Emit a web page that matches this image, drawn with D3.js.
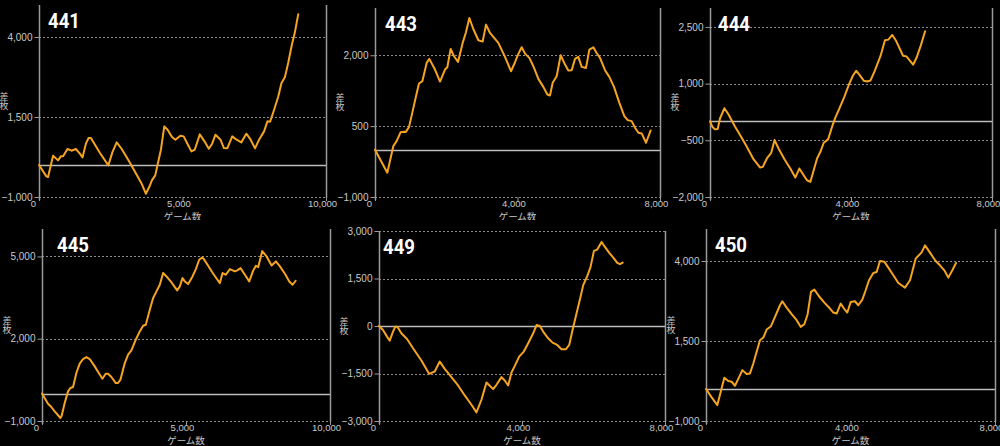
<!DOCTYPE html>
<html><head><meta charset="utf-8">
<script src="https://cdn.jsdelivr.net/npm/d3@7"></script>
<style>html,body{margin:0;padding:0;background:#000;overflow:hidden}</style>
</head><body>
<svg id="c" width="1000" height="446"></svg>
<script>
// ---- data ----
const machines = ["441", "443", "444", "445", "449", "450"];
const xTitle = "ゲーム数";
const yTitle = "差枚";

const games441 = [0,257,315,490,665,759,840,992,1132,1284,1424,1517,1634,1727,1809,2124,2416,2556,2707,2883,3174,3466,3583,3723,3840,3933,4050,4131,4248,4365,4481,4633,4750,4925,5041,5158,5310,5427,5602,5765,5917,6033,6150,6325,6442,6559,6734,6885,7049,7224,7375,7527,7667,7842,7959,8052,8192,8332,8449,8566,8682,8811,8916,9032];
const coins441 = [0,-355,-376,291,145,270,270,500,447,500,353,238,666,843,843,374,-12,395,707,500,61,-408,-595,-897,-689,-481,-324,10,478,1207,1103,874,791,916,895,686,426,478,957,739,510,666,947,791,530,520,895,791,707,978,791,520,791,1051,1364,1353,1728,2124,2562,2739,3187,3760,4146,4708];

const games443 = [0,346,515,608,720,814,861,954,1057,1151,1235,1329,1450,1525,1684,1825,1965,2030,2124,2218,2330,2461,2554,2648,2760,2901,3022,3116,3228,3322,3462,3649,3818,3930,4024,4117,4211,4332,4445,4585,4725,4838,4912,4987,5100,5212,5334,5427,5521,5614,5708,5801,5923,6017,6129,6222,6316,6456,6578,6709,6859,6999,7093,7205,7299,7393,7486,7608,7738];
const coins443 = [0,-486,78,183,373,380,373,479,817,1134,1401,1451,1838,1923,1697,1444,1697,1746,2134,1979,1859,2261,2486,2789,2556,2317,2289,2648,2472,2387,2261,1965,1662,1852,2028,2169,2035,1944,1768,1500,1331,1169,1148,1416,1556,2000,1803,1676,1683,1923,1965,1754,1732,2120,2169,2049,1944,1683,1542,1331,993,711,627,606,465,359,345,148,408];

const games444 = [0,66,142,218,285,408,522,712,883,1044,1234,1423,1499,1613,1737,1832,1945,2116,2278,2420,2534,2657,2752,2847,2942,3037,3132,3227,3350,3464,3559,3654,3796,3938,4052,4147,4242,4365,4460,4555,4679,4840,4963,5058,5172,5286,5476,5571,5647,5761,5856,5979,6102];
const coins444 = [0,-140,-211,-202,82,348,188,-140,-405,-671,-999,-1220,-1203,-981,-831,-494,-716,-1008,-1247,-1486,-1247,-1424,-1557,-1601,-1291,-981,-804,-565,-476,-140,108,303,613,968,1207,1340,1233,1074,1056,1083,1348,1738,2146,2163,2287,2119,1738,1720,1632,1499,1676,2004,2385];

const games445 = [0,209,324,440,521,637,684,788,904,985,1078,1193,1309,1425,1541,1657,1831,1970,2097,2213,2294,2410,2561,2642,2723,2874,2990,3105,3256,3395,3511,3604,3743,3859,3974,4090,4206,4322,4496,4693,4786,4878,4959,5075,5226,5342,5458,5562,5620,5770,5944,6176,6269,6385,6524,6697,6778,6894,7045,7196,7335,7427,7508,7647,7798,7972,8122,8261,8435,8586,8702,8806];
const coins445 = [0,-369,-490,-648,-745,-891,-806,-344,81,202,239,749,1089,1259,1332,1259,992,749,542,725,725,603,384,384,506,1113,1417,1575,1964,2267,2474,2510,3057,3482,3725,3968,4393,4271,4053,3761,3907,4210,4089,3992,4271,4538,4879,4964,4903,4660,4368,4028,4393,4332,4538,4453,4490,4575,4332,4089,4490,4660,4611,5194,5000,4672,4818,4636,4368,4089,3968,4113];

const games449 = [0,112,224,299,392,457,513,625,784,952,1186,1400,1559,1699,1839,2026,2212,2399,2586,2726,2866,3006,3099,3193,3286,3426,3519,3613,3706,3799,3921,4051,4173,4313,4406,4500,4612,4733,4854,4985,5106,5228,5321,5414,5508,5638,5713,5825,5918,6012,6105,6226,6320,6441,6553,6665,6740,6815];
const coins449 = [0,-126,-336,-462,-178,-21,-21,-231,-409,-703,-1091,-1511,-1437,-1123,-1353,-1616,-1878,-2193,-2486,-2728,-2329,-1783,-1888,-1993,-1857,-1616,-1721,-1878,-1469,-1259,-965,-808,-546,-231,31,0,-210,-388,-525,-598,-734,-734,-598,-126,315,923,1290,1573,1867,2371,2413,2654,2496,2308,2161,1993,1951,2003];

const games450 = [0,157,314,415,508,618,710,803,913,1006,1126,1218,1310,1402,1495,1587,1679,1799,1910,2048,2113,2233,2371,2510,2620,2722,2814,2906,2999,3128,3276,3432,3525,3617,3728,3820,3912,4005,4124,4216,4327,4420,4512,4632,4724,4816,4936,5047,5186,5324,5508,5647,5804,5970,6062,6200,6357,6477,6597,6708,6819,6920];
const coins450 = [0,-262,-501,-54,351,247,227,102,362,590,466,487,798,1162,1526,1609,1859,1963,2254,2617,2742,2545,2337,2150,1942,2025,2337,3033,3106,2898,2701,2514,2389,2358,2669,2514,2389,2721,2742,2617,2794,3085,3397,3626,3657,4000,3979,3792,3553,3314,3168,3397,4073,4270,4489,4260,4000,3865,3709,3480,3709,3938];

const xTicks441 = [0, 5000, 10000], yTicks441 = [-1000, 1500, 4000], yDom441 = [-1000, 5000], xDom441 = [0, 10000];
const xTicks443 = [0, 4000, 8000], yTicks443 = [-1000, 500, 2000], yDom443 = [-1000, 3000], xDom443 = [0, 8000];
const xTicks444 = [0, 4000, 8000], yTicks444 = [-2000, -500, 1000, 2500], yDom444 = [-2000, 3000], xDom444 = [0, 8000];
const xTicks445 = [0, 5000, 10000], yTicks445 = [-1000, 2000, 5000], yDom445 = [-1000, 6000], xDom445 = [0, 10000];
const xTicks449 = [0, 4000, 8000], yTicks449 = [-3000, -1500, 0, 1500, 3000], yDom449 = [-3000, 3000], xDom449 = [0, 8000];
const xTicks450 = [0, 4000, 8000], yTicks450 = [-1000, 1500, 4000], yDom450 = [-1000, 5000], xDom450 = [0, 8000];

// ---- layout (plot rectangles of each screenshot) ----
const layout = [
  {l: 39,  r: 326, t: 5,   b: 197, tx: 9},
  {l: 375, r: 660, t: 8,   b: 197, tx: 10},
  {l: 710, r: 992, t: 8,   b: 197, tx: 8},
  {l: 42,  r: 330, t: 229, b: 421, tx: 15},
  {l: 379, r: 665, t: 231, b: 421, tx: 4},
  {l: 706, r: 995, t: 229, b: 421, tx: 9}
];

const panels = [
  {games: games441, coins: coins441, xt: xTicks441, yt: yTicks441, yd: yDom441, xd: xDom441},
  {games: games443, coins: coins443, xt: xTicks443, yt: yTicks443, yd: yDom443, xd: xDom443},
  {games: games444, coins: coins444, xt: xTicks444, yt: yTicks444, yd: yDom444, xd: xDom444},
  {games: games445, coins: coins445, xt: xTicks445, yt: yTicks445, yd: yDom445, xd: xDom445},
  {games: games449, coins: coins449, xt: xTicks449, yt: yTicks449, yd: yDom449, xd: xDom449},
  {games: games450, coins: coins450, xt: xTicks450, yt: yTicks450, yd: yDom450, xd: xDom450}
];

const svg = d3.select("#c");
svg.append("rect").attr("width", 1000).attr("height", 446).attr("fill", "#000");

const fmt = d3.format(",");
const numFont = "'Liberation Sans', Arial, sans-serif";
const jpFont = "'Noto Sans CJK JP', sans-serif";
const labelCol = "#c8c8c8";
const axisCol = "#9a9a9a";

function drawPanel(i) {
  const p = panels[i], L = layout[i];
  const g = svg.append("g");
  const x = d3.scaleLinear().domain(p.xd).range([L.l, L.r]);
  const y = d3.scaleLinear().domain(p.yd).range([L.b, L.t]);

  // dotted grid lines
  g.selectAll("line.grid").data(p.yt).join("line")
    .attr("x1", L.l).attr("x2", L.r)
    .attr("y1", d => Math.round(y(d)) + 0.5).attr("y2", d => Math.round(y(d)) + 0.5)
    .attr("stroke", "#8a8a8a").attr("stroke-width", 1).attr("stroke-dasharray", "2,2");

  // zero line
  g.append("line").attr("x1", L.l).attr("x2", L.r)
    .attr("y1", Math.round(y(0)) + 0.5).attr("y2", Math.round(y(0)) + 0.5)
    .attr("stroke", "#bdbdbd").attr("stroke-width", 1.5);

  // y axis
  const ya = g.append("g").attr("transform", `translate(${L.l + 0.5},0)`)
    .call(d3.axisLeft(y).tickValues(p.yt).tickFormat(fmt).tickSize(5).tickPadding(2));
  ya.select(".domain").attr("stroke", axisCol).attr("stroke-width", 1.5).attr("d", `M0,${L.t}V${L.b + 3}`);
  ya.selectAll(".tick line").attr("stroke", axisCol);
  ya.selectAll(".tick text").attr("fill", labelCol).style("font-family", numFont).style("font-size", "10px");

  // x axis (ticks + labels only)
  const xa = g.append("g").attr("transform", `translate(0,${L.b})`)
    .call(d3.axisBottom(x).tickValues(p.xt).tickFormat(fmt).tickSize(4));
  xa.select(".domain").remove();
  xa.selectAll(".tick line").attr("stroke", axisCol);
  xa.selectAll(".tick text").attr("fill", labelCol)
    .attr("y", 10).attr("dy", null)
    .attr("dx", d => d === 0 ? -6 : -4)
    .style("font-family", numFont).style("font-size", "9.5px");

  // right border
  g.append("line").attr("x1", L.r + 0.5).attr("x2", L.r + 0.5).attr("y1", L.t).attr("y2", L.b + 1)
    .attr("stroke", axisCol).attr("stroke-width", 1.5);

  // data line
  const pts = p.games.map((d, k) => [d, p.coins[k]]);
  g.append("path").datum(pts)
    .attr("d", d3.line().x(d => x(d[0])).y(d => y(d[1])).curve(d3.curveLinear))
    .attr("fill", "none").attr("stroke", "#f5a422").attr("stroke-width", 2)
    .attr("stroke-linejoin", "round").attr("stroke-linecap", "round");

  // title
  g.append("text").attr("x", L.l + L.tx).attr("y", L.t + 23)
    .attr("fill", "#fff").style("font-family", "Roboto, 'Open Sans', sans-serif")
    .style("font-weight", "700").style("font-size", "21px")
    .attr("textLength", 32).attr("lengthAdjust", "spacingAndGlyphs")
    .text(machines[i]);

  // y title (vertical writing)
  const ym = (L.t + L.b) / 2;
  g.append("text")
    .attr("x", L.l - 35).attr("y", ym)
    .attr("text-anchor", "middle").attr("fill", labelCol)
    .style("writing-mode", "vertical-rl")
    .style("font-family", jpFont).style("font-size", "9px")
    .text(yTitle);

  // x title
  g.append("text").attr("x", (L.l + L.r) / 2).attr("y", L.b + 23)
    .attr("text-anchor", "middle").attr("fill", labelCol)
    .style("font-family", jpFont).style("font-size", "9.5px")
    .text(xTitle);
}

[0, 1, 2].forEach(drawPanel);
// second row of screenshots covers what hangs below the first row
svg.append("rect").attr("x", 0).attr("y", 220).attr("width", 1000).attr("height", 226).attr("fill", "#000");
[3, 4, 5].forEach(drawPanel);
</script>
</body></html>
